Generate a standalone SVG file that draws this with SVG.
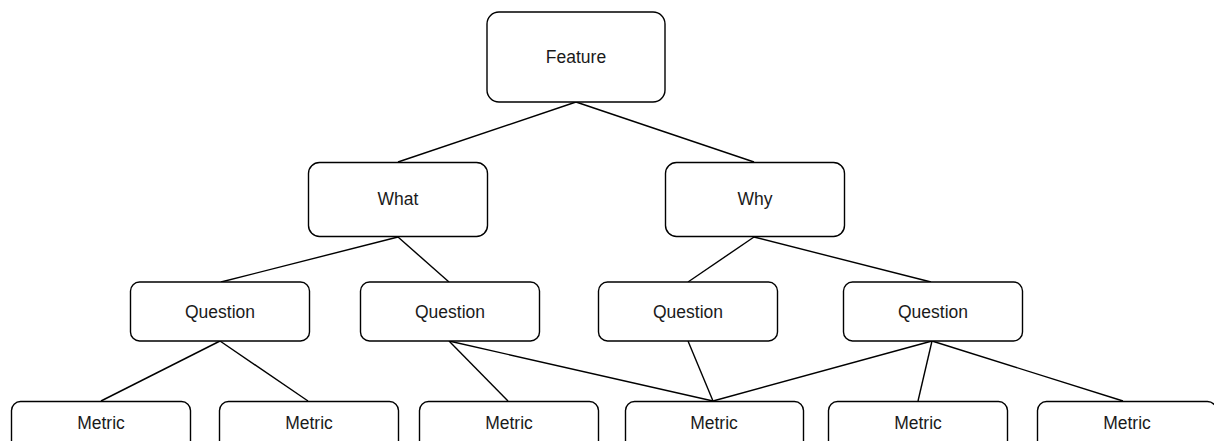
<svg xmlns="http://www.w3.org/2000/svg" width="1214" height="441" viewBox="0 0 1214 441">
  <style>
    .box { fill: #ffffff; stroke: #000000; stroke-width: 1.4; }
    .lbl { font-family: "Liberation Sans", Arial, Helvetica, sans-serif; font-size: 17.5px; fill: #1a1a1a; text-anchor: middle; }
    .edge { stroke: #000000; stroke-width: 1.4; fill: none; }
  </style>
  <rect width="1214" height="441" fill="#ffffff"/>

  <!-- connectors -->
  <g id="connectors">
    <line class="edge" x1="576" y1="102" x2="398" y2="162"/>
    <line class="edge" x1="576" y1="102" x2="754" y2="162"/>
    <line class="edge" x1="398" y1="237" x2="221" y2="282"/>
    <line class="edge" x1="398" y1="237" x2="449" y2="282"/>
    <line class="edge" x1="754" y1="237" x2="688" y2="282"/>
    <line class="edge" x1="754" y1="237" x2="931" y2="282"/>
    <line class="edge" x1="220" y1="341" x2="101" y2="401"/>
    <line class="edge" x1="220" y1="341" x2="308" y2="401"/>
    <line class="edge" x1="449" y1="341" x2="508" y2="401"/>
    <line class="edge" x1="449" y1="341" x2="713" y2="401"/>
    <line class="edge" x1="688" y1="341" x2="713" y2="401"/>
    <line class="edge" x1="932" y1="341" x2="713" y2="401"/>
    <line class="edge" x1="932" y1="341" x2="918" y2="401"/>
    <line class="edge" x1="932" y1="341" x2="1123" y2="401"/>
  </g>

  <!-- root -->
  <g id="feature">
    <rect class="box" x="487" y="12" width="178" height="90" rx="12"/>
    <text class="lbl" x="576" y="63">Feature</text>
  </g>

  <!-- second level -->
  <g id="what">
    <rect class="box" x="308.5" y="162.5" width="179" height="74" rx="11"/>
    <text class="lbl" x="398" y="205">What</text>
  </g>
  <g id="why">
    <rect class="box" x="665.5" y="162.5" width="179" height="74" rx="11"/>
    <text class="lbl" x="755" y="205">Why</text>
  </g>

  <!-- questions -->
  <g id="question-1">
    <rect class="box" x="130.5" y="282" width="179" height="59" rx="9"/>
    <text class="lbl" x="220" y="318">Question</text>
  </g>
  <g id="question-2">
    <rect class="box" x="360.5" y="282" width="179" height="59" rx="9"/>
    <text class="lbl" x="450" y="318">Question</text>
  </g>
  <g id="question-3">
    <rect class="box" x="598.5" y="282" width="179" height="59" rx="9"/>
    <text class="lbl" x="688" y="318">Question</text>
  </g>
  <g id="question-4">
    <rect class="box" x="843.5" y="282" width="179" height="59" rx="9"/>
    <text class="lbl" x="933" y="318">Question</text>
  </g>

  <!-- metrics (run past the bottom edge) -->
  <g id="metric-1">
    <rect class="box" x="11.5" y="401.5" width="179" height="59" rx="9"/>
    <text class="lbl" x="101" y="429">Metric</text>
  </g>
  <g id="metric-2">
    <rect class="box" x="219.5" y="401.5" width="179" height="59" rx="9"/>
    <text class="lbl" x="309" y="429">Metric</text>
  </g>
  <g id="metric-3">
    <rect class="box" x="419.5" y="401.5" width="179" height="59" rx="9"/>
    <text class="lbl" x="509" y="429">Metric</text>
  </g>
  <g id="metric-4">
    <rect class="box" x="625.5" y="401.5" width="178" height="59" rx="9"/>
    <text class="lbl" x="714" y="429">Metric</text>
  </g>
  <g id="metric-5">
    <rect class="box" x="828.5" y="401.5" width="179" height="59" rx="9"/>
    <text class="lbl" x="918" y="429">Metric</text>
  </g>
  <g id="metric-6">
    <rect class="box" x="1037.5" y="401.5" width="179" height="59" rx="9"/>
    <text class="lbl" x="1127" y="429">Metric</text>
  </g>
</svg>
